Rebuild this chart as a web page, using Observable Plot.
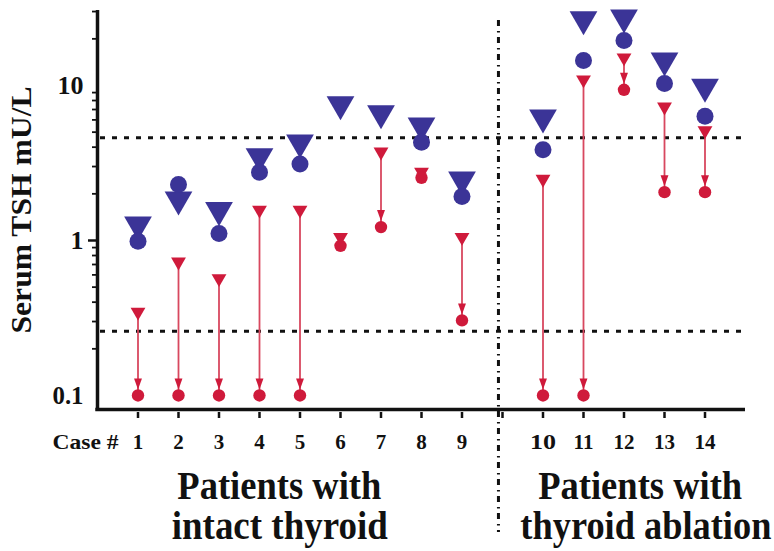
<!DOCTYPE html>
<html>
<head>
<meta charset="utf-8">
<script src="https://cdn.jsdelivr.net/npm/d3@7"></script>
<script src="https://cdn.jsdelivr.net/npm/@observablehq/plot@0.6"></script>
<style>
  html, body { margin: 0; padding: 0; background: #fff; }
  #chart svg { display: block; }
  #chart svg text { font-family: "Liberation Serif", "Times New Roman", Tinos, "Nimbus Roman", "DejaVu Serif Condensed", "DejaVu Serif", serif !important; font-stretch: condensed; }
</style>
</head>
<body>
<div id="chart"></div>
<script>
// ---- data ----
const cases = [1, 2, 3, 4, 5, 6, 7, 8, 9, 10, 11, 12, 13, 14];
const slots = [1, 2, 3, 4, 5, 6, 7, 8, 9, 11, 12, 13, 14, 15]; // gap slot between the two groups
const blueTriangle = [1.27, 1.84, 1.57, 3.50, 4.29, 7.57, 6.63, 5.52, 2.47, 6.22, 26.8, 27.5, 14.5, 9.8];
const blueCircle   = [0.99, 2.30, 1.11, 2.76, 3.12, null, null, 4.31, 1.92, 3.85, 14.5, 19.5, 10.3, 6.34];
const redTriangle  = [0.346, 0.728, 0.569, 1.575, 1.575, 1.05, 3.73, 2.77, 1.05, 2.49, 10.9, 15.1, 7.28, 5.13];
const redCircle    = [0.1, 0.1, 0.1, 0.1, 0.1, 0.924, 1.22, 2.54, 0.305, 0.1, 0.1, 9.38, 2.05, 2.05];
const refLevels = [0.26, 4.6];
const dividerSlot = [9.9];
const xTickSlots = [1, 2, 3, 4, 5, 6, 7, 8, 9, 10, 11, 12, 13, 14, 15];
const yTickValues = [0.1, 1, 10];
const yTickLabels = ["0.1", "1", "10"];
const yLabel = "Serum TSH mU/L";
const xLabel = "Case #";
const groupLines = ["Patients with", "intact thyroid", "Patients with", "thyroid ablation"];
const groupSlots = [4.49, 4.5, 13.4, 13.54];
const groupRow = [0, 1, 0, 1];

// ---- layout / style ----
const W = 774, H = 551;
const ML = 97, MR = 29, MT = 10, MB = 142;
const yDomain = [0.0812, 30.47];
const xDomain = [0, 16];
const FONT = "'Liberation Serif', 'Times New Roman', serif";
const BLUE = "#3b3497", RED = "#cf1a3b", LINK = "#d8485f", INK = "#111";
// rendered widths of the longer texts in the reference (px)
const textWidths = new Map([
  ["Serum TSH mU/L", 247],
  ["Case #", 66],
  ["Patients with", 204],
  ["intact thyroid", 216],
  ["thyroid ablation", 251],
  ["0.1", 31],
  ["10", 26]
]);

const rows = cases.map((c, i) => ({
  case: c, slot: slots[i],
  bt: blueTriangle[i], bc: blueCircle[i], rt: redTriangle[i], rc: redCircle[i]
}));
const arrows = rows.filter(d => d.rt / d.rc > 1.5);

const minorTicks = [];
for (const dec of [0.1, 1, 10]) for (let k = 2; k <= 9; k++) if (k * dec <= yDomain[1]) minorTicks.push(k * dec);

// custom symbols
const triDown = {
  draw(ctx, size) {
    const a = Math.sqrt(size / (3 * Math.sqrt(3)));
    ctx.moveTo(-Math.sqrt(3) * a, -a);
    ctx.lineTo(Math.sqrt(3) * a, -a);
    ctx.lineTo(0, 2 * a);
    ctx.closePath();
  }
};
const arrowHead = {
  draw(ctx, size) {
    const h = Math.sqrt(size);
    ctx.moveTo(-0.36 * h, -h / 2);
    ctx.lineTo(0.36 * h, -h / 2);
    ctx.lineTo(0, h / 2);
    ctx.closePath();
  }
};

const txt = {fontFamily: FONT, fontWeight: "bold", fill: INK};

const chart = Plot.plot({
  width: W, height: H,
  marginLeft: ML, marginRight: MR, marginTop: MT, marginBottom: MB,
  style: {background: "#fff", overflow: "visible"},
  x: {domain: xDomain, axis: null},
  y: {type: "log", domain: yDomain, axis: null},
  marks: [
    // reference (normal range) lines
    Plot.ruleY(refLevels, {stroke: INK, strokeWidth: 3, strokeDasharray: "5,7", insetLeft: 3}),
    // group divider (dash-dot)
    Plot.ruleX(dividerSlot, {stroke: INK, strokeWidth: 3, strokeDasharray: "6,5,1.5,4.5", insetTop: 10, insetBottom: -123}),
    // axis lines
    Plot.ruleX([xDomain[0]], {stroke: INK, strokeWidth: 3.5, insetBottom: -1.7}),
    Plot.ruleY([yDomain[0]], {stroke: INK, strokeWidth: 3.5, insetLeft: -1.7}),
    // x tick marks
    Plot.ruleX(xTickSlots, {stroke: INK, strokeWidth: 2.5, insetTop: (H - MB - MT) + 3, insetBottom: -9}),
    // y minor / major ticks
    Plot.ruleY(minorTicks, {stroke: INK, strokeWidth: 1.8, insetLeft: -5, insetRight: W - MR - ML + 1}),
    Plot.ruleY([1], {stroke: INK, strokeWidth: 2.5, insetLeft: -9, insetRight: W - MR - ML + 1}),
    // y tick labels
    Plot.text(yTickValues, {y: d => d, text: (d, i) => yTickLabels[i], frameAnchor: "left", textAnchor: "end", dx: -14, fontSize: 26, ...txt}),
    // y title
    Plot.text([yLabel], {text: d => d, frameAnchor: "left", textAnchor: "middle", rotate: -90, dx: -76, fontSize: 30, ...txt}),
    // case labels
    Plot.text(rows, {x: "slot", text: d => String(d.case), frameAnchor: "bottom", dy: 39, fontSize: 21, ...txt}),
    Plot.text([xLabel], {text: d => d, frameAnchor: "bottom-left", textAnchor: "middle", dx: -12, dy: 39, fontSize: 21, ...txt}),
    // group labels
    Plot.text(groupLines, {filter: (d, i) => groupRow[i] === 0, x: (d, i) => groupSlots[i], text: d => d, frameAnchor: "bottom", dy: 89, fontSize: 40, ...txt}),
    Plot.text(groupLines, {filter: (d, i) => groupRow[i] === 1, x: (d, i) => groupSlots[i], text: d => d, frameAnchor: "bottom", dy: 129, fontSize: 40, ...txt}),
    // red arrows
    Plot.link(arrows, {x1: "slot", x2: "slot", y1: "rt", y2: "rc", stroke: LINK, strokeWidth: 1.8}),
    // blue markers
    Plot.dot(rows, {x: "slot", y: "bt", symbol: triDown, r: 10.3, fill: BLUE, stroke: "none"}),
    Plot.dot(rows.filter(d => d.bc != null), {x: "slot", y: "bc", r: 8.5, fill: BLUE, stroke: "none"}),
    // red markers
    Plot.dot(rows, {x: "slot", y: "rt", symbol: triDown, r: 5.5, fill: RED, stroke: "none"}),
    Plot.dot(arrows, {x: "slot", y: "rc", symbol: arrowHead, r: 6.2, fill: RED, stroke: "none", dy: -11.5}),
    Plot.dot(rows, {x: "slot", y: "rc", r: 6.2, fill: RED, stroke: "none"})
  ]
});

document.getElementById("chart").append(chart);
chart.querySelectorAll("text").forEach(t => {
  const w = textWidths.get(t.textContent.trim());
  if (w == null) return;
  t.setAttribute("textLength", w);
  t.setAttribute("lengthAdjust", "spacingAndGlyphs");
});
</script>
</body>
</html>
